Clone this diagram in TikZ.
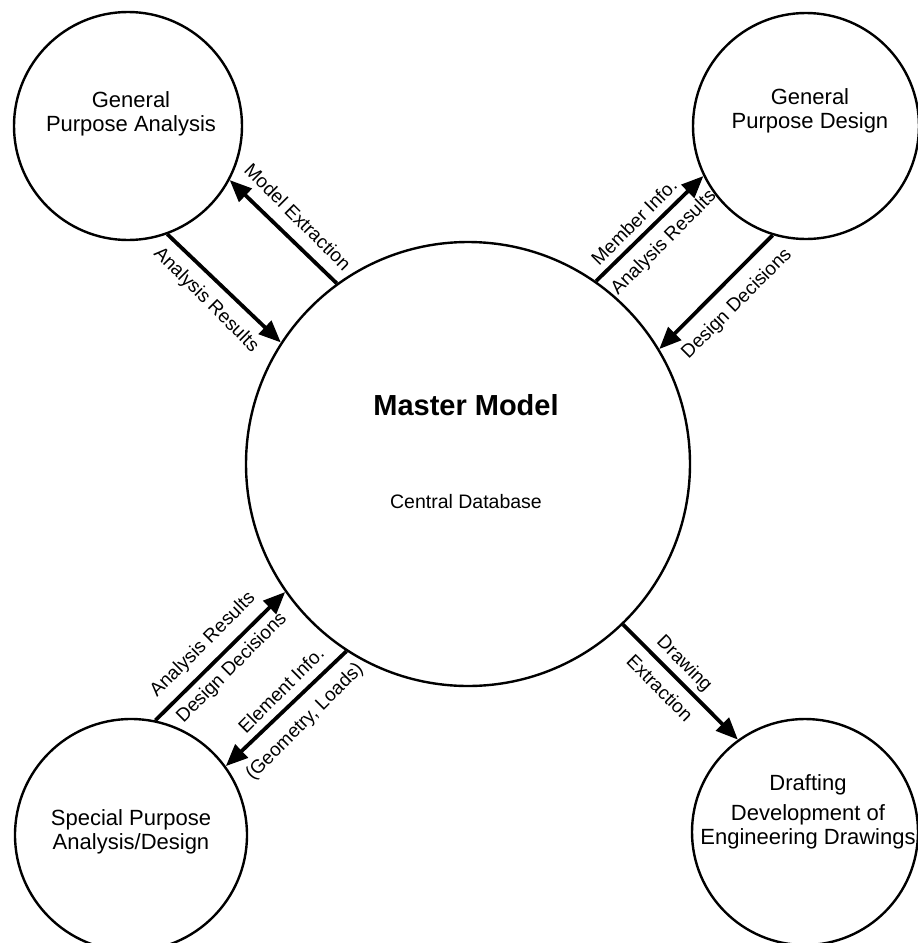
\documentclass[tikz,border=0pt]{standalone}
\usepackage{fontspec}
\setmainfont{Liberation Sans}
\usetikzlibrary{arrows.meta}
\begin{document}
\begin{tikzpicture}[x=1pt,y=-1pt,
  bubble/.style={circle,draw,line width=2.4pt,inner sep=0pt},
  arr/.style={line width=3.8pt,-{Triangle[length=22pt,width=18pt]}},
  lab/.style={font=\fontsize{19}{21}\selectfont,inner sep=0pt},
  ctext/.style={font=\fontsize{22}{24}\selectfont,align=center,inner sep=0pt}]
\fill[white] (0,0) rectangle (918,943);
\useasboundingbox (0,0) rectangle (918,943);
% circles
\node[bubble,minimum size=444pt] (master) at (468,464) {};
\node[bubble,minimum size=228pt] (gpa) at (128,126) {};
\node[bubble,minimum size=226pt] (gpd) at (806,126) {};
\node[bubble,minimum size=232pt] (spad) at (131,835) {};
\node[bubble,minimum size=226pt] (draft) at (805,832) {};
% circle texts
\node[ctext] (tgpa) at (131,114) {General\\Purpose Analysis};
\node[ctext] (tgpd) at (810,111) {General\\Purpose Design};
\node[ctext] (tspad) at (131,832) {Special Purpose\\Analysis/Design};
\node[ctext] (tdraft) at (808,812) {Drafting\\[6pt]Development of\\Engineering Drawings};
\node[inner sep=0pt,font=\fontsize{29}{32}\selectfont\bfseries] (tmm) at (466,405) {Master\ Model};
\node[inner sep=0pt,font=\fontsize{19.5}{22}\selectfont] (tcd) at (466,502) {Central\ Database};
% connectors
\draw[arr] (master.126.2) -- (gpa.-28.5);
\draw[arr] (gpa.-70) -- (master.147.7);
\draw[arr] (master.55.4) -- (gpd.206.3);
\draw[arr] (gpd.-107.1) -- (master.31.4);
\draw[arr] (spad.78.2) -- (master.-145);
\draw[arr] (master.-123.5) -- (spad.36.1);
\draw[arr] (master.-46.1) -- (draft.126.1);
% connector labels
\node[lab,rotate=-45] (lme) at (298,217) {Model Extraction};
\node[lab,rotate=-45] (lar1) at (206,300) {Analysis Results};
\node[lab,rotate=45] (lmi) at (634,222) {Member Info.};
\node[lab,rotate=45] (lar2) at (664,243) {Analysis Results};
\node[lab,rotate=45] (ldd1) at (737,304) {Design Decisions};
\node[lab,rotate=45] (lar3) at (203,645) {Analysis Results};
\node[lab,rotate=45] (ldd2) at (232,668) {Design Decisions};
\node[lab,rotate=45] (lei) at (281,690) {Element Info.};
\node[lab,rotate=45] (lgl) at (305,722) {(Geometry, Loads)};
\node[lab,rotate=-45] (ldr) at (684,664) {Drawing};
\node[lab,rotate=-45] (lex) at (660,688) {Extraction};
\end{tikzpicture}
\end{document}
